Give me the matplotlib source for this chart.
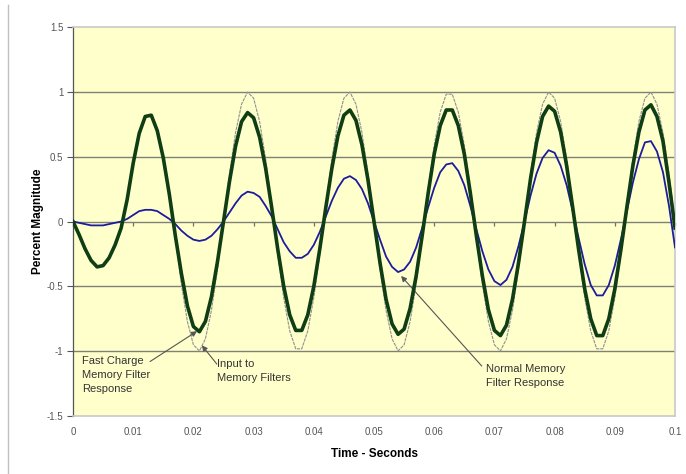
import matplotlib
matplotlib.use("Agg")
import matplotlib.pyplot as plt
from matplotlib.lines import Line2D

plt.rcParams['font.family'] = ['Liberation Sans', 'DejaVu Sans']

# time axis, 1 ms steps
t = [k / 1000 for k in range(101)]

# fast charge memory filter response (thick green)
fast = [0.0, -0.10, -0.21, -0.30, -0.35, -0.34, -0.28, -0.18, -0.05, 0.17,
        0.45, 0.68, 0.81, 0.82, 0.70, 0.49, 0.21, -0.11, -0.40, -0.65,
        -0.81, -0.85, -0.77, -0.58, -0.31, 0.0, 0.31, 0.58, 0.77, 0.84,
        0.80, 0.65, 0.41, 0.11, -0.21, -0.50, -0.72, -0.84, -0.84, -0.72,
        -0.50, -0.21, 0.11, 0.41, 0.66, 0.82, 0.86, 0.78, 0.59, 0.32,
        0.0, -0.32, -0.60, -0.79, -0.87, -0.83, -0.67, -0.42, -0.11, 0.22,
        0.52, 0.74, 0.86, 0.86, 0.74, 0.52, 0.22, -0.11, -0.42, -0.68,
        -0.84, -0.88, -0.80, -0.60, -0.32, 0.0, 0.33, 0.61, 0.81, 0.89,
        0.85, 0.69, 0.43, 0.11, -0.22, -0.52, -0.75, -0.88, -0.88, -0.75,
        -0.52, -0.22, 0.11, 0.43, 0.69, 0.86, 0.90, 0.81, 0.62, 0.30,
        -0.05]

# normal memory filter response (thin blue)
normal = [0.0, -0.01, -0.02, -0.03, -0.03, -0.03, -0.02, -0.01, 0.0, 0.02,
          0.05, 0.08, 0.09, 0.09, 0.08, 0.05, 0.02, -0.02, -0.07, -0.11,
          -0.14, -0.15, -0.14, -0.11, -0.06, 0.0, 0.07, 0.14, 0.20, 0.23,
          0.22, 0.19, 0.12, 0.04, -0.06, -0.16, -0.23, -0.28, -0.28, -0.25,
          -0.18, -0.08, 0.04, 0.16, 0.26, 0.33, 0.35, 0.32, 0.25, 0.14,
          0.0, -0.14, -0.27, -0.35, -0.39, -0.37, -0.31, -0.20, -0.05, 0.11,
          0.26, 0.38, 0.44, 0.45, 0.39, 0.28, 0.12, -0.06, -0.23, -0.37,
          -0.46, -0.49, -0.45, -0.35, -0.19, 0.0, 0.20, 0.37, 0.49, 0.55,
          0.53, 0.43, 0.28, 0.08, -0.13, -0.33, -0.49, -0.57, -0.57, -0.49,
          -0.34, -0.14, 0.08, 0.30, 0.48, 0.61, 0.62, 0.54, 0.38, 0.12,
          -0.20]

# input to memory filters (thin gray), drawn from 17 ms on
t_in = t[17:]
inp = [-0.125, -0.482, -0.771, -0.951, -0.998, -0.905, -0.685, -0.368, 0.0,
       0.368, 0.685, 0.905, 0.998, 0.951, 0.771, 0.482, 0.125, -0.249,
       -0.588, -0.844, -0.982, -0.982, -0.844, -0.588, -0.249, 0.125, 0.482,
       0.771, 0.951, 0.998, 0.905, 0.685, 0.368, 0.0, -0.368, -0.685, -0.905,
       -0.998, -0.951, -0.771, -0.482, -0.125, 0.249, 0.588, 0.844, 0.982,
       0.982, 0.844, 0.588, 0.249, -0.125, -0.482, -0.771, -0.951, -0.998,
       -0.905, -0.685, -0.368, 0.0, 0.368, 0.685, 0.905, 0.998, 0.951, 0.771,
       0.482, 0.125, -0.249, -0.588, -0.844, -0.982, -0.982, -0.844, -0.588,
       -0.249, 0.125, 0.482, 0.771, 0.951, 0.998, 0.905, 0.685, 0.368, 0.0]

xticks = [0, 0.01, 0.02, 0.03, 0.04, 0.05, 0.06, 0.07, 0.08, 0.09, 0.1]
xlabels = ["0", "0.01", "0.02", "0.03", "0.04", "0.05", "0.06", "0.07", "0.08", "0.09", "0.1"]
yticks = [-1.5, -1, -0.5, 0, 0.5, 1, 1.5]
ylabels = ["-1.5", "-1", "-0.5", "0", "0.5", "1", "1.5"]

fig = plt.figure(figsize=(6.86, 4.74), dpi=100)
ax = fig.add_axes([0.1064, 0.1224, 0.8776, 0.8206])
ax.set_facecolor('#ffffcc')

for y in [-1, -0.5, 0, 0.5, 1]:
    ax.axhline(y, color='#808078', lw=1.0, zorder=1)

ax.plot(t_in, inp, color='#909090', lw=0.8, ls=(0, (3, 0.8)), zorder=2)
ax.plot(t, normal, color='#1c1c9c', lw=1.3, zorder=3)
ax.plot(t, fast, color='#0f3d14', lw=2.6, zorder=4)

ax.set_xlim(0, 0.1)
ax.set_ylim(-1.5, 1.5)
ax.set_xticks(xticks)
ax.set_xticklabels(xlabels)
ax.set_yticks(yticks)
ax.set_yticklabels(ylabels)
ax.tick_params(axis='x', length=0, pad=8, labelsize=7, labelcolor='#555555')
ax.tick_params(axis='y', length=4, width=0.8, color='#555555', pad=3,
               labelsize=7, labelcolor='#555555')

for side in ['top', 'right', 'bottom']:
    ax.spines[side].set_color('#c8c8c8')
    ax.spines[side].set_linewidth(1.2)
ax.spines['left'].set_color('#555555')
ax.spines['left'].set_linewidth(0.9)

# x axis crossing at zero with small tick marks pointing down
sec = ax.secondary_xaxis(0.5)
sec.xaxis.set_ticks_position('bottom')
sec.set_xticks(xticks)
sec.set_xticklabels([])
sec.tick_params(length=3, width=0.9, color='#707068', direction='out',
                labeltop=False, labelbottom=False)
for s in sec.spines.values():
    s.set_visible(False)

ax.set_xlabel("Time - Seconds", fontsize=8.5, fontweight='bold', labelpad=8)
ax.set_ylabel("Percent Magnitude", fontsize=8.5, fontweight='bold', labelpad=2)

tkw = dict(fontsize=8, color='#333333', va='top', ha='left', linespacing=1.45)
akw = dict(arrowstyle='-|>', color='#555555', lw=0.8, mutation_scale=8,
           shrinkA=0, shrinkB=0)
ax.text(0.0015, -1.04, "Fast Charge\nMemory Filter\nResponse", **tkw)
ax.annotate("", xy=(0.0206, -0.846), xytext=(0.0128, -1.08), arrowprops=akw)
ax.text(0.0239, -1.06, "Input to\nMemory Filters", **tkw)
ax.annotate("", xy=(0.0214, -0.955), xytext=(0.0239, -1.10), arrowprops=akw)
ax.text(0.0686, -1.10, "Normal Memory\nFilter Response", **tkw)
ax.annotate("", xy=(0.0545, -0.42), xytext=(0.0679, -1.115), arrowprops=akw)

fig.add_artist(Line2D([0.011, 0.011], [0.0, 0.99], color='#c0c0c0', lw=1.0))

fig.savefig("out.png", dpi=100)
